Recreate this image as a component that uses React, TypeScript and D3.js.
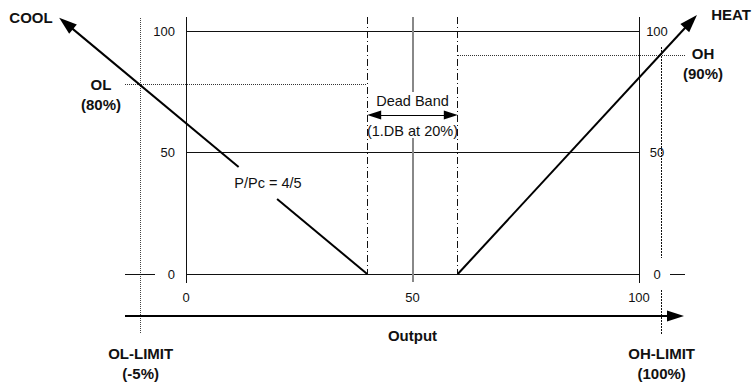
import React from "react";
import * as d3 from "d3";

// ---- data ----
const xTicks = [0, 50, 100];
const yTicks = [0, 50, 100];
const deadBand = [40, 60];
const coolLine: [number, number][] = [[40, 0], [-28, 105.5]];
const heatLine: [number, number][] = [[60, 0], [112.8, 106.6]];
const olLevel = 78;
const ohLevel = 90;
const olLimit = -10;
const ohLimit = 105;
const labels = {
  cool: "COOL",
  heat: "HEAT",
  ol: ["OL", "(80%)"],
  oh: ["OH", "(90%)"],
  olLimit: ["OL-LIMIT", "(-5%)"],
  ohLimit: ["OH-LIMIT", "(100%)"],
  output: "Output",
  deadBand: ["Dead Band", "(1.DB at 20%)"],
  ratio: "P/Pc = 4/5",
};

const W = 754, H = 384;
const FONT = "'Liberation Sans', Arial, Helvetica, sans-serif";

function arrowHead(tip: [number, number], from: [number, number], len: number, half: number) {
  const dx = tip[0] - from[0], dy = tip[1] - from[1];
  const L = Math.hypot(dx, dy);
  const ux = dx / L, uy = dy / L;
  const bx = tip[0] - ux * len, by = tip[1] - uy * len;
  const px = -uy, py = ux;
  return `M${tip[0]},${tip[1]}L${bx + px * half},${by + py * half}L${bx - px * half},${by - py * half}Z`;
}

export default function App() {
  const x = d3.scaleLinear().domain([0, 100]).range([186, 639]);
  const y = d3.scaleLinear().domain([0, 100]).range([274, 31]);
  const top = 17, axisBottom = 283;
  const outY = 316;

  const c0: [number, number] = [x(coolLine[0][0]), y(coolLine[0][1])];
  const c1: [number, number] = [x(coolLine[1][0]), y(coolLine[1][1])];
  const h0: [number, number] = [x(heatLine[0][0]), y(heatLine[0][1])];
  const h1: [number, number] = [x(heatLine[1][0]), y(heatLine[1][1])];

  const lerp = (a: [number, number], b: [number, number], t: number): [number, number] => [a[0] + (b[0] - a[0]) * t, a[1] + (b[1] - a[1]) * t];
  const tAt = (py: number) => (py - c0[1]) / (c1[1] - c0[1]);
  const gapA = lerp(c0, c1, tAt(199));
  const gapB = lerp(c0, c1, tAt(167));
  const line = d3.line();

  const dbL = x(deadBand[0]), dbR = x(deadBand[1]), mid = x(50);
  const dbArrowY = 115;

  const coolTipBase = lerp(c0, c1, 1 - 16 / Math.hypot(c1[0] - c0[0], c1[1] - c0[1]));
  const heatTipBase = lerp(h0, h1, 1 - 16 / Math.hypot(h1[0] - h0[0], h1[1] - h0[1]));

  return (
    <svg width={W} height={H} style={{ position: "absolute", left: 0, top: 0, background: "#fff" }} fontFamily={FONT}>
      <g shapeRendering="crispEdges">
        {yTicks.map((t) => (
          <line key={"g" + t} x1={x(0)} x2={x(100)} y1={y(t)} y2={y(t)} stroke="#111" strokeWidth={1} />
        ))}
        <line x1={x(0)} x2={x(0)} y1={top} y2={axisBottom} stroke="#111" strokeWidth={1} />
        <line x1={x(100)} x2={x(100)} y1={top} y2={axisBottom} stroke="#111" strokeWidth={1} />
        <line x1={mid} x2={mid} y1={top} y2={92} stroke="#888" strokeWidth={2} />
        <line x1={mid} x2={mid} y1={138} y2={282} stroke="#888" strokeWidth={2} />
        {deadBand.map((d) => (
          <line key={"db" + d} x1={x(d)} x2={x(d)} y1={top} y2={y(0)} stroke="#111" strokeWidth={1} strokeDasharray="7,3,1,3" />
        ))}
        <line x1={125} x2={dbL} y1={y(olLevel)} y2={y(olLevel)} stroke="#333" strokeWidth={1} strokeDasharray="1,1" />
        <line x1={dbR} x2={685} y1={y(ohLevel)} y2={y(ohLevel)} stroke="#333" strokeWidth={1} strokeDasharray="1,1" />
        <line x1={x(olLimit)} x2={x(olLimit)} y1={18} y2={334} stroke="#444" strokeWidth={1} strokeDasharray="1,1" />
        <line x1={x(ohLimit)} x2={x(ohLimit)} y1={47} y2={258} stroke="#111" strokeWidth={1} strokeDasharray="2,1" />
        <line x1={x(ohLimit)} x2={x(ohLimit)} y1={290} y2={334} stroke="#111" strokeWidth={1} strokeDasharray="2,1" />
        <line x1={125} x2={155} y1={y(0)} y2={y(0)} stroke="#111" strokeWidth={1} />
        <line x1={670} x2={685} y1={y(0)} y2={y(0)} stroke="#111" strokeWidth={1} />
        <line x1={125} x2={670} y1={outY} y2={outY} stroke="#000" strokeWidth={2} />
        <line x1={dbL + 10} x2={dbR - 10} y1={dbArrowY} y2={dbArrowY} stroke="#000" strokeWidth={1} />
      </g>
      {yTicks.map((t) => (
        <text key={"yl" + t} x={175} y={y(t)} dy="0.35em" textAnchor="end" fontSize={13} fill="#111">{t}</text>
      ))}
      {yTicks.map((t) => (
        <text key={"yr" + t} x={657} y={y(t)} dy="0.35em" textAnchor="middle" fontSize={13} fill="#111">{t}</text>
      ))}
      {xTicks.map((t) => (
        <text key={"x" + t} x={x(t)} y={297} dy="0.35em" textAnchor="middle" fontSize={13} fill="#111">{t}</text>
      ))}
      <path d={`M684,${outY}L667,${outY - 5.5}L667,${outY + 5.5}Z`} fill="#000" />
      <path d={line([c0, gapA]) || ""} stroke="#000" strokeWidth={2} fill="none" />
      <path d={line([gapB, coolTipBase]) || ""} stroke="#000" strokeWidth={2} fill="none" />
      <path d={arrowHead(c1, c0, 18, 6)} fill="#000" />
      <path d={line([h0, heatTipBase]) || ""} stroke="#000" strokeWidth={2} fill="none" />
      <path d={arrowHead(h1, h0, 18, 6)} fill="#000" />
      <path d={`M${dbL},${dbArrowY}L${dbL + 14},${dbArrowY - 4.5}L${dbL + 14},${dbArrowY + 4.5}Z`} fill="#000" />
      <path d={`M${dbR},${dbArrowY}L${dbR - 14},${dbArrowY - 4.5}L${dbR - 14},${dbArrowY + 4.5}Z`} fill="#000" />
      <text x={mid} y={101} dy="0.35em" textAnchor="middle" fontSize={14.5} fill="#111">{labels.deadBand[0]}</text>
      <text x={mid} y={131} dy="0.35em" textAnchor="middle" fontSize={14.5} fill="#111">{labels.deadBand[1]}</text>
      <text x={268} y={183} dy="0.35em" textAnchor="middle" fontSize={14.5} fill="#111">{labels.ratio}</text>
      <g fontWeight="bold" fontSize={15} fill="#111" textAnchor="middle">
        <text x={31} y={18} dy="0.35em">{labels.cool}</text>
        <text x={731} y={15} dy="0.35em">{labels.heat}</text>
        <text x={101} y={85} dy="0.35em">{labels.ol[0]}</text>
        <text x={101} y={105} dy="0.35em">{labels.ol[1]}</text>
        <text x={703} y={54} dy="0.35em">{labels.oh[0]}</text>
        <text x={703} y={74} dy="0.35em">{labels.oh[1]}</text>
        <text x={x(olLimit)} y={354} dy="0.35em">{labels.olLimit[0]}</text>
        <text x={x(olLimit)} y={374} dy="0.35em">{labels.olLimit[1]}</text>
        <text x={x(ohLimit)} y={354} dy="0.35em">{labels.ohLimit[0]}</text>
        <text x={x(ohLimit)} y={374} dy="0.35em">{labels.ohLimit[1]}</text>
        <text x={mid} y={336} dy="0.35em">{labels.output}</text>
      </g>
    </svg>
  );
}
